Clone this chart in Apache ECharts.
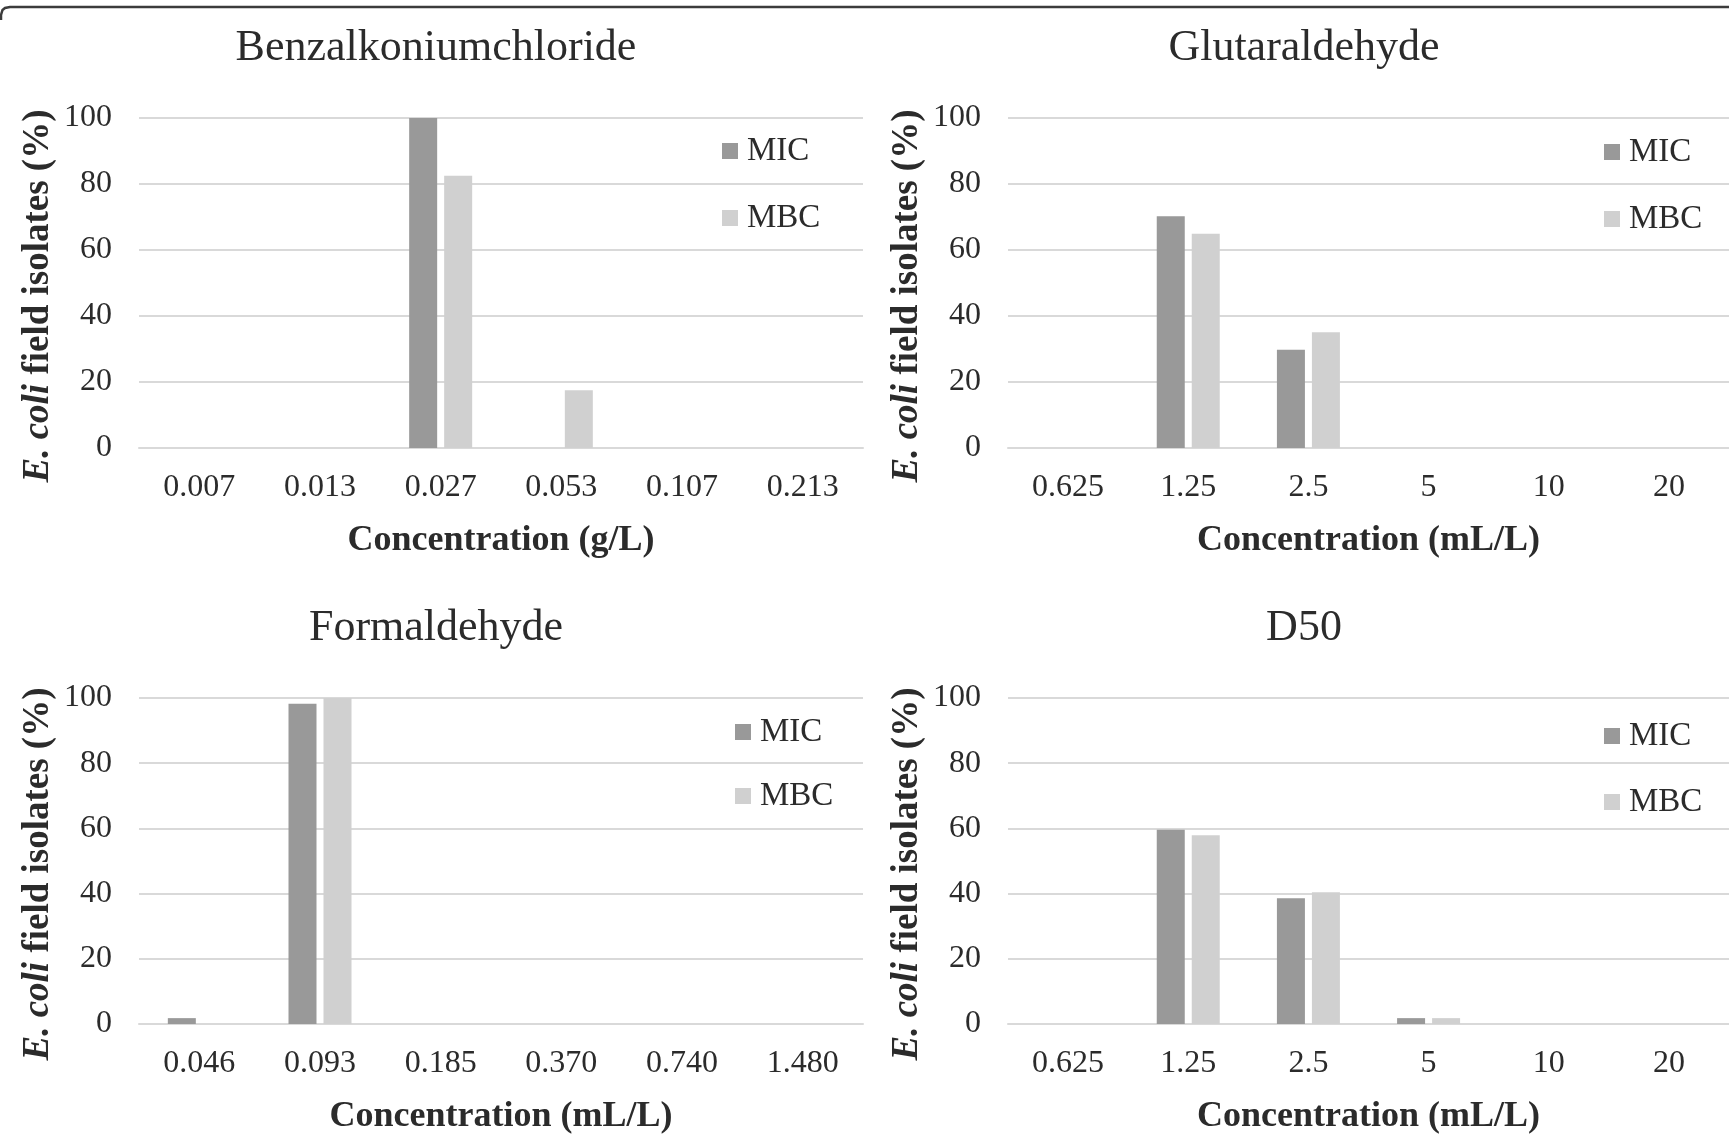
<!DOCTYPE html>
<html>
<head>
<meta charset="utf-8">
<script src="https://cdn.jsdelivr.net/npm/echarts@6/dist/echarts.min.js"></script>
<style>
html,body{margin:0;padding:0;background:#fff;}
#chart{width:1729px;height:1136px;}
</style>
</head>
<body>
<div id="chart"></div>
<script>
// ---- data ----
var panelTitles = ['Benzalkoniumchloride', 'Glutaraldehyde', 'Formaldehyde', 'D50'];
var xAxisTitles = ['Concentration (g/L)', 'Concentration (mL/L)', 'Concentration (mL/L)', 'Concentration (mL/L)'];
var catsBenz = ['0.007', '0.013', '0.027', '0.053', '0.107', '0.213'];
var catsGlut = ['0.625', '1.25', '2.5', '5', '10', '20'];
var catsForm = ['0.046', '0.093', '0.185', '0.370', '0.740', '1.480'];
var catsD50  = ['0.625', '1.25', '2.5', '5', '10', '20'];
var benzMIC = [0, 0, 100, 0, 0, 0];
var benzMBC = [0, 0, 82.5, 17.5, 0, 0];
var glutMIC = [0, 70.2, 29.8, 0, 0, 0];
var glutMBC = [0, 64.9, 35.1, 0, 0, 0];
var formMIC = [1.8, 98.2, 0, 0, 0, 0];
var formMBC = [0, 100, 0, 0, 0, 0];
var d50MIC  = [0, 59.6, 38.6, 1.8, 0, 0];
var d50MBC  = [0, 57.9, 40.4, 1.8, 0, 0];
var yTicks = [0, 20, 40, 60, 80, 100];
var seriesNames = ['MIC', 'MBC'];

// ---- layout / style ----
var FONT = "'Liberation Serif', 'Times New Roman', serif";
var TXT = '#2b2b2b';
var C_MIC = '#999999', C_MBC = '#d0d0d0';
var GRIDLINE = '#d9d9d9';

var catsAll = [catsBenz, catsGlut, catsForm, catsD50];
var micAll = [benzMIC, glutMIC, formMIC, d50MIC];
var mbcAll = [benzMBC, glutMBC, formMBC, d50MBC];

var grids = [
  {left: 139, top: 118, width: 724, height: 330},
  {left: 1008, top: 118, width: 726, height: 330},
  {left: 139, top: 698, width: 724, height: 330},
  {left: 1008, top: 698, width: 726, height: 330}
];
var titlePos = [[436, 26], [1304, 26], [436, 606], [1304, 606]];
var legendPos = [
  {left: 722, top: 134, gap: 33},
  {left: 1604, top: 135, gap: 33},
  {left: 735, top: 715, gap: 30},
  {left: 1604, top: 719, gap: 32}
];

var option = {
  animation: false,
  backgroundColor: '#fff',
  textStyle: {fontFamily: FONT, color: TXT},
  title: panelTitles.map(function (t, i) {
    return {
      text: t, left: titlePos[i][0], top: titlePos[i][1], textAlign: 'center',
      padding: 0,
      textStyle: {fontFamily: FONT, fontSize: 44, fontWeight: 'normal', color: TXT}
    };
  }),
  legend: legendPos.map(function (p) {
    return {
      data: seriesNames, orient: 'vertical', left: p.left, top: p.top,
      itemGap: p.gap, icon: 'rect', itemWidth: 16, itemHeight: 16,
      padding: 0, selectedMode: false,
      textStyle: {fontFamily: FONT, fontSize: 33, color: TXT, lineHeight: 34, padding: [0, 0, 0, 4]}
    };
  }),
  grid: grids,
  xAxis: catsAll.map(function (c, i) {
    return {
      type: 'category', gridIndex: i, data: c,
      name: xAxisTitles[i], nameLocation: 'middle', nameGap: 75,
      nameTextStyle: {fontFamily: FONT, fontSize: 36, fontWeight: 'bold', color: TXT},
      axisLine: {show: true, lineStyle: {color: GRIDLINE, width: 2}},
      axisTick: {show: false},
      axisLabel: {fontFamily: FONT, fontSize: 32, color: TXT, margin: 24}
    };
  }),
  yAxis: catsAll.map(function (c, i) {
    return {
      type: 'value', gridIndex: i, min: yTicks[0], max: yTicks[yTicks.length - 1], interval: yTicks[1] - yTicks[0],
      name: '{i|E. coli} field isolates (%)', nameLocation: 'middle', nameGap: 82,
      nameTextStyle: {
        fontFamily: FONT, fontSize: 37, fontWeight: 'bold', color: TXT,
        padding: [0, 26, 0, 0],
        rich: {i: {fontFamily: FONT, fontSize: 37, fontWeight: 'bold', fontStyle: 'italic', color: TXT}}
      },
      axisLine: {show: false}, axisTick: {show: false},
      splitLine: {show: true, lineStyle: {color: GRIDLINE, width: 2}},
      axisLabel: {fontFamily: FONT, fontSize: 32, color: TXT, margin: 27}
    };
  }),
  series: [],
  graphic: [{
    type: 'polyline', silent: true,
    shape: {points: [[1, 20], [1, 15], [2.5, 10], [5, 8], [10, 7], [1740, 7]]},
    style: {fill: null, stroke: '#3c3c3c', lineWidth: 2.5}
  }]
};

for (var i = 0; i < 4; i++) {
  option.series.push({
    name: 'MIC', type: 'bar', xAxisIndex: i, yAxisIndex: i, data: micAll[i],
    barWidth: 28, barGap: '25%', itemStyle: {color: C_MIC}
  });
  option.series.push({
    name: 'MBC', type: 'bar', xAxisIndex: i, yAxisIndex: i, data: mbcAll[i],
    barWidth: 28, barGap: '25%', itemStyle: {color: C_MBC}
  });
}

var chart = echarts.init(document.getElementById('chart'), null, {renderer: 'canvas'});
chart.setOption(option);
</script>
</body>
</html>
